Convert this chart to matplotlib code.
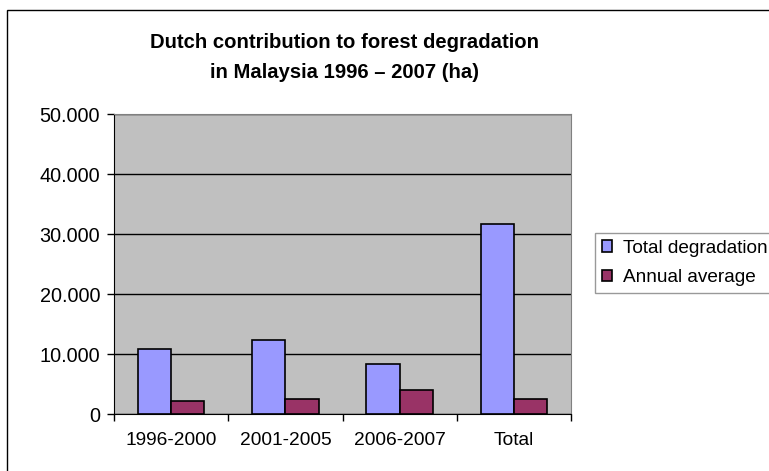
import numpy as np
import matplotlib.pyplot as plt
from matplotlib.patches import Rectangle
from matplotlib.ticker import FuncFormatter

plt.rcParams['font.family'] = ['Liberation Sans', 'DejaVu Sans']

# data (ha)
periods = ['1996-2000', '2001-2005', '2006-2007', 'Total']
total_degradation = [10900, 12400, 8300, 31600]
annual_average = [2180, 2450, 4000, 2550]

fig = plt.figure(figsize=(7.69, 4.71), dpi=100)
ax = fig.add_axes([114/769, 1 - 414/471, (571-114)/769, (414-114)/471])

# chart frame
fig.patches.append(Rectangle((7/769, -0.1), 1.2, 1 - 10/471 + 0.1,
                             transform=fig.transFigure, fill=False,
                             edgecolor='black', linewidth=1.0))

x = np.arange(len(periods))
w = 0.29
ax.bar(x - w/2, total_degradation, w, color='#9999FF', edgecolor='black',
       linewidth=1.2, label='Total degradation', zorder=3)
ax.bar(x + w/2, annual_average, w, color='#993366', edgecolor='black',
       linewidth=1.2, label='Annual average', zorder=3)

ax.set_facecolor('#C0C0C0')
ax.set_xlim(-0.5, len(periods) - 0.5)
ax.set_ylim(0, 50000)
ax.set_yticks(np.arange(0, 50001, 10000))
ax.yaxis.set_major_formatter(FuncFormatter(lambda v, p: '0' if v == 0 else f'{int(v):,}'.replace(',', '.')))
ax.grid(axis='y', color='black', linewidth=1.0, zorder=1)

ax.set_xticks(np.arange(-0.5, len(periods), 1.0))
ax.set_xticklabels([])
ax.set_xticks(x, minor=True)
ax.set_xticklabels(periods, minor=True)
ax.tick_params(axis='x', which='minor', length=0, pad=13, labelsize=13.8)
ax.tick_params(axis='x', which='major', length=5, direction='out', width=1)
ax.tick_params(axis='y', length=5, direction='out', width=1, labelsize=14.3, pad=5)

for s in ['top', 'right']:
    ax.spines[s].set_color('#808080')
for s in ['left', 'bottom']:
    ax.spines[s].set_color('black')

fig.text(344/769, 1 - 43/471, 'Dutch contribution to forest degradation',
         ha='center', va='center', fontsize=14.6, fontweight='bold')
fig.text(344/769, 1 - 72/471, 'in Malaysia 1996 \u2013 2007 (ha)',
         ha='center', va='center', fontsize=14.6, fontweight='bold')

leg = ax.legend(loc='center left', bbox_to_anchor=(595/769, 1 - 263/471),
                bbox_transform=fig.transFigure, frameon=True, fancybox=False,
                edgecolor='#808080', fontsize=13.7, handlelength=0.55,
                handleheight=0.55, handletextpad=0.55, borderpad=0.35,
                labelspacing=0.65, borderaxespad=0)
leg.get_frame().set_linewidth(1.0)

fig.savefig('out.png', dpi=100)
